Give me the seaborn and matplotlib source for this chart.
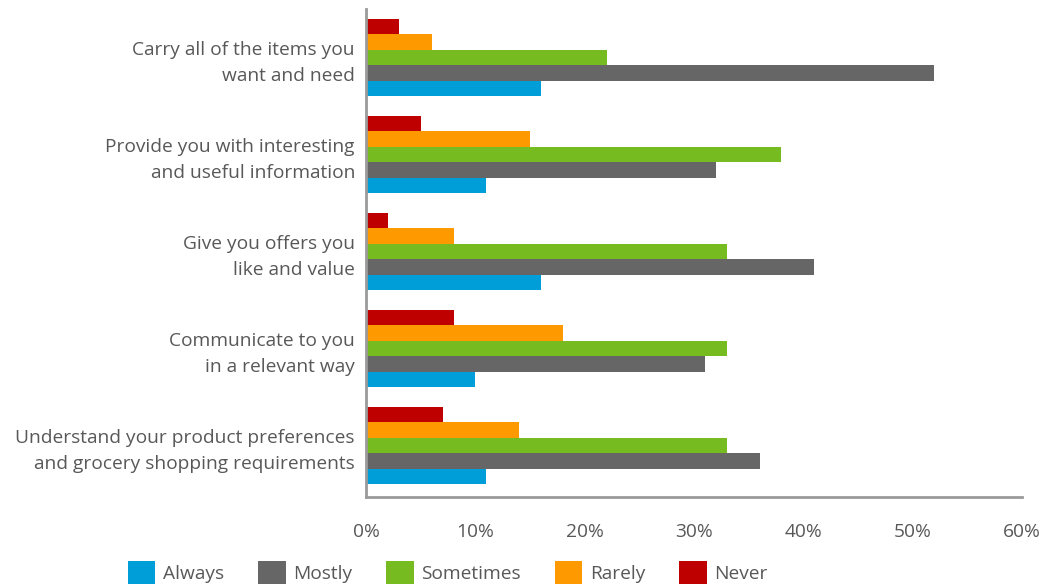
import pandas as pd
import seaborn as sns
import matplotlib.pyplot as plt

# survey questions (top to bottom)
questions = [
    'Carry all of the items you\nwant and need',
    'Provide you with interesting\nand useful information',
    'Give you offers you\nlike and value',
    'Communicate to you\nin a relevant way',
    'Understand your product preferences\nand grocery shopping requirements',
]
never = [3, 5, 2, 8, 7]
rarely = [6, 15, 8, 18, 14]
sometimes = [22, 38, 33, 33, 33]
mostly = [52, 32, 41, 31, 36]
always = [16, 11, 16, 10, 11]

answers = ['Never', 'Rarely', 'Sometimes', 'Mostly', 'Always']
colors = {'Always': '#009ed9', 'Mostly': '#666666', 'Sometimes': '#76bc21',
          'Rarely': '#ff9900', 'Never': '#bf0000'}
xticks = [0, 10, 20, 30, 40, 50, 60]
xticklabels = ['0%', '10%', '20%', '30%', '40%', '50%', '60%']

series = dict(zip(answers, [never, rarely, sometimes, mostly, always]))
rows = []
for ans, vals in series.items():
    for q, v in zip(questions, vals):
        rows.append({'question': q, 'answer': ans, 'pct': v})
df = pd.DataFrame(rows)

sns.set_style('white')
plt.rcParams['font.family'] = ['Open Sans', 'DejaVu Sans']
grey = '#585858'
axis_grey = '#9a9a9a'

fig = plt.figure(figsize=(10.46, 5.88), dpi=100)
ax = fig.add_axes([0.35, 0.155, 0.627, 0.83])

sns.barplot(data=df, y='question', x='pct', hue='answer', hue_order=answers,
            order=questions, palette=colors, orient='h', width=0.8,
            linewidth=0, saturation=1, ax=ax)

ax.set_xlim(0, 60)
ax.set_ylim(4.53, -0.5)
ax.set_xticks(xticks)
ax.set_xticklabels(xticklabels)
ax.set_xlabel('')
ax.set_ylabel('')

for lbl in ax.get_yticklabels():
    lbl.set_multialignment('right')
    lbl.set_linespacing(1.55)
ax.tick_params(axis='y', length=0, pad=8, labelsize=13.8, labelcolor=grey)
ax.tick_params(axis='x', direction='in', length=8, width=1.5, color=axis_grey,
               pad=19, labelsize=13.8, labelcolor=grey)

sns.despine(ax=ax)
for side in ['left', 'bottom']:
    ax.spines[side].set_color(axis_grey)
    ax.spines[side].set_linewidth(2)

handles, labels = ax.get_legend_handles_labels()
ax.get_legend().remove()
fig.legend(handles[::-1], labels[::-1], ncol=5, loc='center',
           bbox_to_anchor=(0.428, 0.026), frameon=False, fontsize=13.8,
           labelcolor=grey, handlelength=1.45, handleheight=1.45,
           handletextpad=0.4, columnspacing=1.75, borderpad=0)

fig.savefig('out.png', dpi=100)
